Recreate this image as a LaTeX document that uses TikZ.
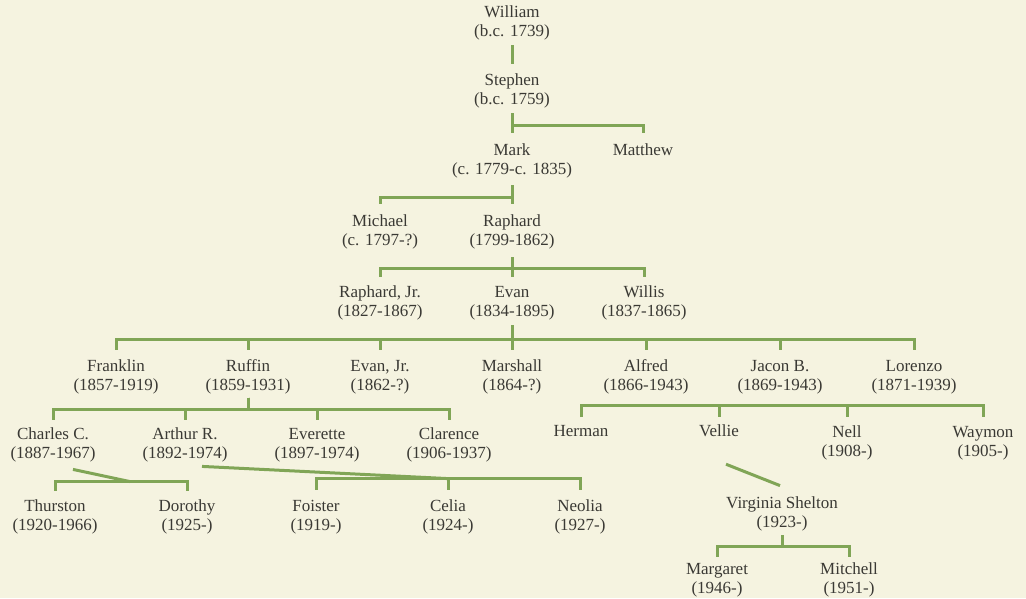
\documentclass[tikz,border=0pt]{standalone}
\usepackage{fontspec}
\setmainfont{Liberation Serif}
\definecolor{paper}{RGB}{245,243,224}
\definecolor{leaf}{RGB}{128,165,86}
\definecolor{ink}{RGB}{58,57,52}

\begin{document}
\begin{tikzpicture}[x=1pt, y=-1pt, font=\fontsize{17}{19}\selectfont,
   person/.style={align=center, text=ink, inner sep=0pt},
   link/.style={draw=leaf, line width=3pt},
   node distance=132pt]

   \fill[paper] (0,0) rectangle (1026,598);

   \node[person, name=william] at (512,23) {William\\(b.c. 1739)};
   \node[person, name=stephen] at (512,91) {Stephen\\(b.c. 1759)};
   \node[person, name=mark] at (512,161) {Mark\\(c. 1779-c. 1835)};
   \node[person, name=matthew] at (643,150) {Matthew};
   \node[person, name=raphard] at (512,232) {Raphard\\(1799-1862)};
   \node[person, name=michael, left of=raphard] {Michael\\(c. 1797-?)};
   \node[person, name=evan] at (512,303) {Evan\\(1834-1895)};
   \node[person, name=raphardjr, left of=evan] {Raphard, Jr.\\(1827-1867)};
   \node[person, name=willis, right of=evan] {Willis\\(1837-1865)};

   \node[person, name=marshall] at (512,377) {Marshall\\(1864-?)};
   \node[person, name=evanjr, left of=marshall] {Evan, Jr.\\(1862-?)};
   \node[person, name=ruffin, left of=evanjr] {Ruffin\\(1859-1931)};
   \node[person, name=franklin, left of=ruffin] {Franklin\\(1857-1919)};
   \node[person, name=alfred, node distance=134pt, right of=marshall] {Alfred\\(1866-1943)};
   \node[person, name=jacon, node distance=134pt, right of=alfred] {Jacon B.\\(1869-1943)};
   \node[person, name=lorenzo, node distance=134pt, right of=jacon] {Lorenzo\\(1871-1939)};

   \node[person, name=everette] at (317,445) {Everette\\(1897-1974)};
   \node[person, name=arthur, left of=everette] {Arthur R.\\(1892-1974)};
   \node[person, name=charles, left of=arthur] {Charles C.\\(1887-1967)};
   \node[person, name=clarence, right of=everette] {Clarence\\(1906-1937)};

   \node[person, name=herman] at (581,431) {Herman};
   \node[person, name=vellie] at (719,431) {Vellie};
   \node[person, name=nell] at (847,443) {Nell\\(1908-)};
   \node[person, name=waymon] at (983,443) {Waymon\\(1905-)};

   \node[person, name=thurston] at (55,517) {Thurston\\(1920-1966)};
   \node[person, name=dorothy, right of=thurston] {Dorothy\\(1925-)};
   \node[person, name=foister] at (316,517) {Foister\\(1919-)};
   \node[person, name=celia, right of=foister] {Celia\\(1924-)};
   \node[person, name=neolia, right of=celia] {Neolia\\(1927-)};

   \node[person, name=virginia] at (782,514) {Virginia Shelton\\(1923-)};
   \node[person, name=margaret] at (717,580) {Margaret\\(1946-)};
   \node[person, name=mitchell, right of=margaret] {Mitchell\\(1951-)};

   \draw[link] ([yshift=-5pt]william.south) -- ([yshift=10pt]stephen.north);
   \foreach \kid in {mark,matthew}
      \draw[link] ([yshift=-5pt]stephen.south) -- ++(0,12) -| ([yshift=11pt]\kid.north);
   \foreach \kid in {michael,raphard}
      \draw[link] ([yshift=-7pt]mark.south) -- ++(0,12) -| ([yshift=11pt]\kid.north);
   \foreach \kid in {raphardjr,evan,willis}
      \draw[link] ([yshift=-8pt]raphard.south) -- ++(0,11) -| ([yshift=9pt]\kid.north);
   \foreach \kid in {franklin,ruffin,evanjr,marshall,alfred,jacon,lorenzo}
      \draw[link] ([yshift=-5pt]evan.south) -- ++(0,14) -| ([yshift=10pt]\kid.north);
   \foreach \kid in {charles,arthur,everette,clarence}
      \draw[link] ([yshift=-3pt]ruffin.south) -- ++(0,12) -| ([yshift=8pt]\kid.north);

   \draw[link] ([yshift=8pt]herman.north) -- ++(0,-12) -| ([yshift=9pt]waymon.north);
   \draw[link] ([yshift=8pt]vellie.north) -- ++(0,-12);
   \draw[link] ([yshift=9pt]nell.north) -- ++(0,-12);

   \draw[link] ([xshift=20pt,yshift=-7pt]charles.south) -- ([xshift=75pt,yshift=18pt]thurston.north);
   \draw[link] ([yshift=9pt]thurston.north) -- ++(0,-9) -| ([yshift=9pt]dorothy.north);

   \draw[link] ([xshift=17pt,yshift=-4pt]arthur.south) -- ([yshift=21pt]celia.north);
   \draw[link] ([yshift=10pt]foister.north) -- ++(0,-11) -| ([yshift=10pt]neolia.north);
   \draw[link] ([yshift=10pt]celia.north) -- ++(0,-11);

   \draw[link] ([xshift=7pt,yshift=-27pt]vellie.south) -- ([xshift=-2pt,yshift=11pt]virginia.north);
   \foreach \kid in {margaret,mitchell}
      \draw[link] ([yshift=-4pt]virginia.south) -- ++(0,11) -| ([yshift=6pt]\kid.north);
\end{tikzpicture}
\end{document}
